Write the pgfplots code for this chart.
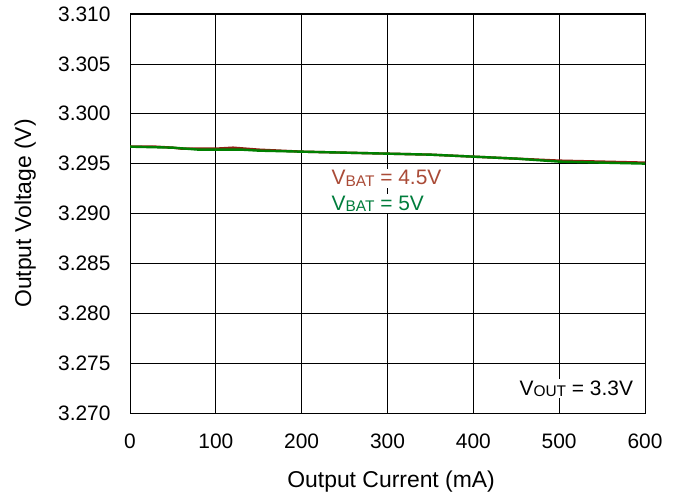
\documentclass[border=0pt]{standalone}
\usepackage{fontspec}
\setmainfont{Liberation Sans}
\usepackage{pgfplots}
\pgfplotsset{compat=1.18}
\definecolor{vbatA}{RGB}{145,30,20}
\definecolor{vbatAtext}{RGB}{170,75,55}
\definecolor{vbatB}{RGB}{0,128,0}
\definecolor{vbatBtext}{RGB}{0,125,60}
\newcommand{\sub}[1]{\raisebox{-0.1ex}{\fontsize{15.5}{18}\selectfont #1}}
\begin{document}
\begin{tikzpicture}
\begin{axis}[
  name=ax,
  scale only axis,
  width=515bp, height=399bp,
  xmin=0, xmax=600, ymin=3.270, ymax=3.310,
  xtick={0,100,...,600},
  ytick={3.270,3.275,...,3.311},
  grid=major,
  major grid style={black, line width=0.7pt},
  axis line style={black, line width=1pt},
  major tick length=0pt,
  tick label style={font=\fontsize{21}{25}\selectfont},
  yticklabel style={/pgf/number format/fixed, /pgf/number format/fixed zerofill,
    /pgf/number format/precision=3, xshift=-16bp},
  /pgf/number format/assume math mode=true,
  xticklabel style={yshift=-17bp},
  xlabel={Output Current (mA)},
  ylabel={Output Voltage (V)},
  label style={font=\fontsize{23}{27}\selectfont},
  xlabel style={at={(axis description cs:0.507,-0.1855)}, anchor=base},
  ylabel style={at={(axis description cs:-0.1922,0.5)}, anchor=base},
]
\addplot[vbatA, line width=2.4bp] coordinates {
  (0,3.2967) (30,3.2967) (50,3.2966) (60,3.2965) (100,3.2965) (120,3.2966)
  (150,3.2964) (200,3.2962) (250,3.2961) (300,3.2960) (350,3.2959)
  (400,3.2957) (450,3.2955) (500,3.2953) (550,3.2952) (600,3.2951)
};
\addplot[vbatB, line width=2.4bp] coordinates {
  (0,3.2967) (50,3.2966) (80,3.2964) (130,3.2964) (150,3.2963) (200,3.2962)
  (250,3.2961) (300,3.2960) (350,3.2959) (400,3.2957) (450,3.2955)
  (500,3.2952) (550,3.2951) (600,3.2950)
};
\node[anchor=base west, text=vbatAtext, fill=white, font=\fontsize{21}{25}\selectfont, inner sep=1.5bp] at (axis cs:233,3.29286) {V\sub{BAT} = 4.5V};
\node[anchor=base west, text=vbatBtext, fill=white, font=\fontsize{21}{25}\selectfont, inner sep=1.5bp] at (axis cs:233,3.29035) {V\sub{BAT} = 5V};
\node[anchor=base east, fill=white, font=\fontsize{21}{25}\selectfont, inner sep=1.5bp] at (axis cs:588,3.2718) {V\sub{OUT} = 3.3V};
\end{axis}
\pgfresetboundingbox
\path[use as bounding box] ([shift={(-130bp,-85bp)}]ax.south west) rectangle ([shift={(33bp,14bp)}]ax.north east);
\end{tikzpicture}
\end{document}
